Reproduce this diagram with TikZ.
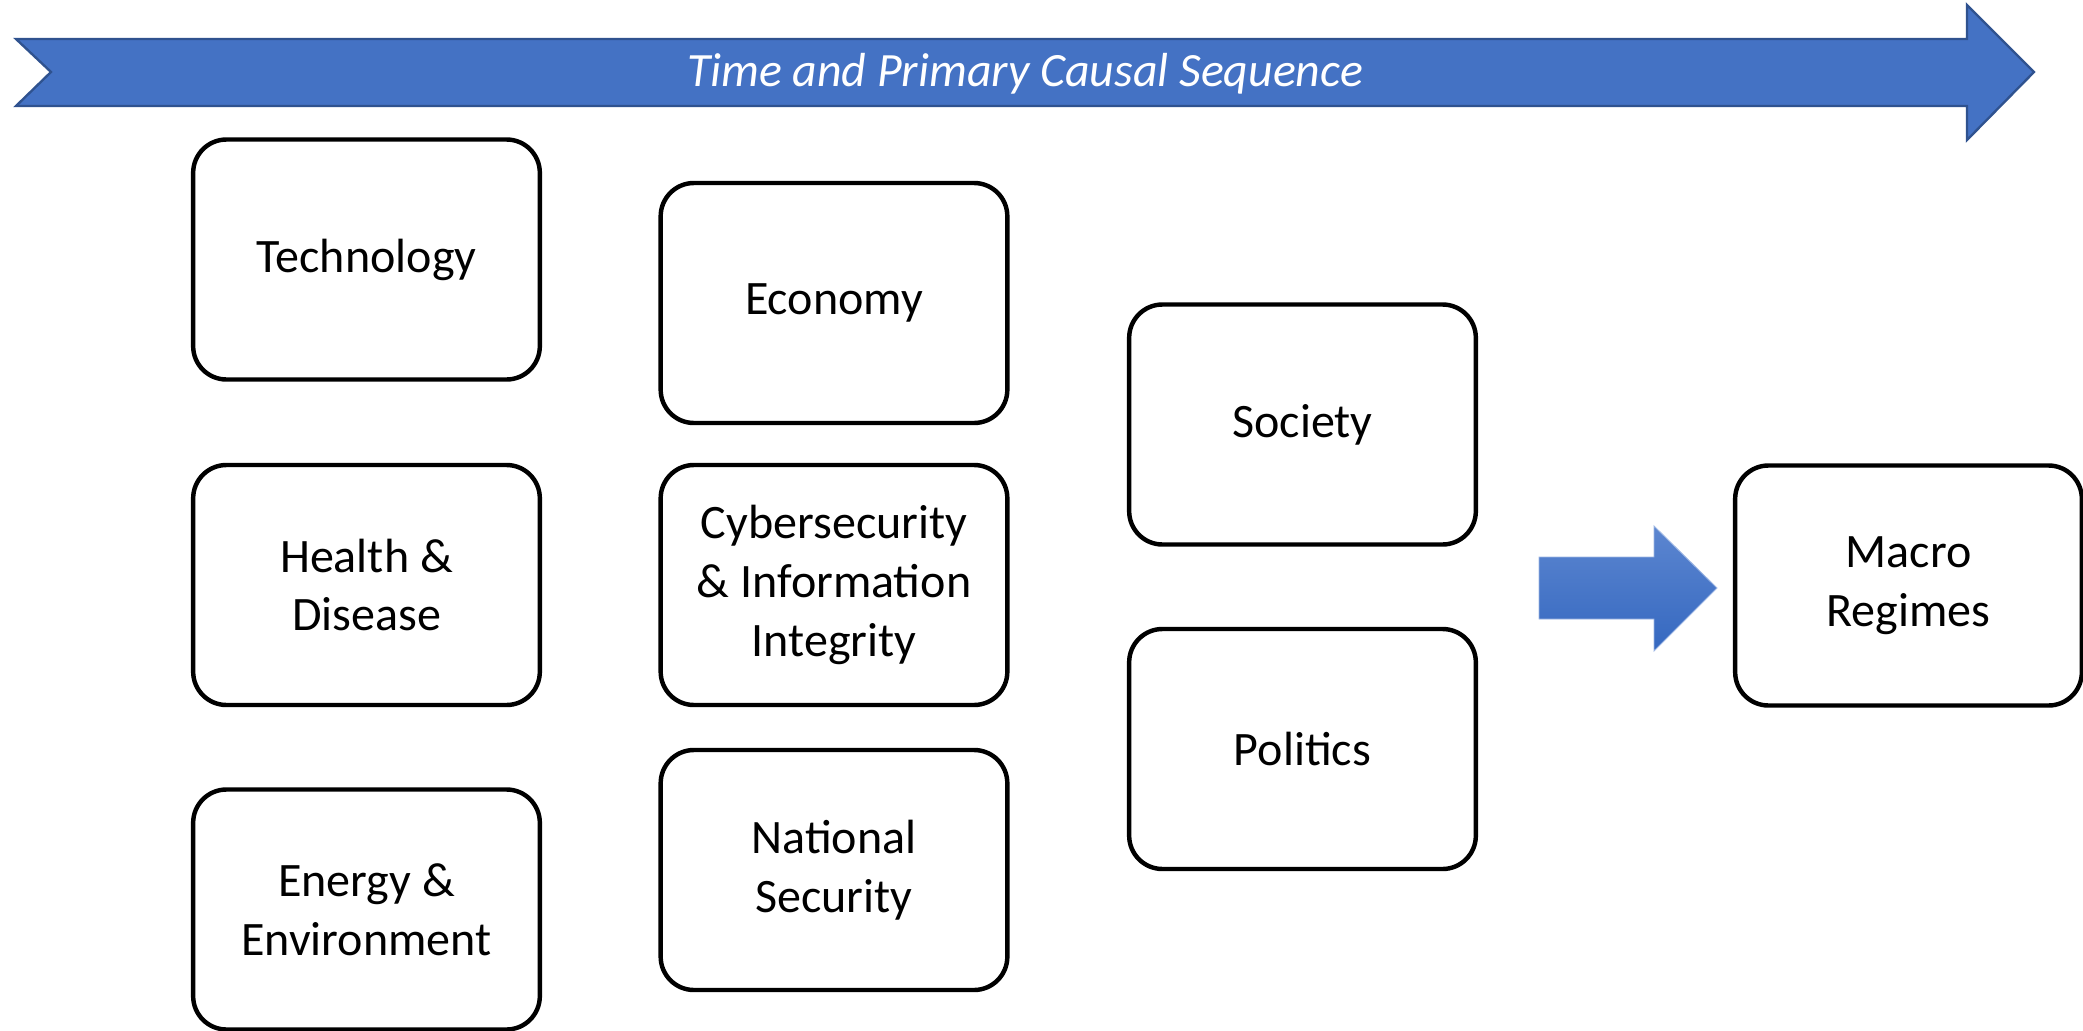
\documentclass[tikz,border=0pt]{standalone}
\usepackage{fontspec}
\setmainfont{Carlito}
\usepackage{tikz}
\usetikzlibrary{positioning}
\usepackage{xcolor}
\definecolor{arrowblue}{HTML}{4472C4}
\definecolor{arrowedge}{HTML}{2F528F}
\definecolor{shadetop}{HTML}{5C86D0}
\definecolor{shadebot}{HTML}{3568C0}

\begin{document}
\begin{tikzpicture}[
        x=0.015cm, y=-0.015cm,
        box/.style={rectangle, draw, line width=1.9pt, rounded corners=0.5cm, fill=white,
            minimum width=5.2cm, minimum height=3.6cm, align=center,
            font=\fontsize{20.5}{25}\selectfont},
        timeline/.style={fill=arrowblue, draw=arrowedge, line width=1pt},
        blockarrow/.style={top color=shadetop, bottom color=shadebot, draw=shadetop!60!white, line width=0.4pt}
    ]
        \useasboundingbox (0,0) rectangle (2083,1031);

        % Time arrow
        \draw[timeline] (16,39) -- (1967,39) -- (1967,5) -- (2034,72) -- (1967,140)
            -- (1967,106) -- (16,106) -- (51,72) -- cycle;
        \node[text=white, font=\fontsize{20.4}{24}\selectfont\itshape] (time) at (1025,74)
            {Time and Primary Causal Sequence};

        % First column
        \node[box] (tech) at (366.5,259.5) {Technology};
        \node[box] (health) at (366.5,585) {Health \&\\Disease};
        \node[box] (energy) at (366.5,909.5) {Energy \&\\Environment};

        % Second column
        \node[box] (econ) at (834,303) {Economy};
        \node[box] (cyber) at (834,585) {Cybersecurity\\\& Information\\Integrity};
        \node[box] (natsec) at (834,870) {National\\Security};

        % Third column
        \node[box] (society) at (1302.5,424.5) {Society};
        \node[box] (politics) at (1302.5,749) {Politics};

        % Block arrow
        \draw[blockarrow] (1539,557) -- (1654,557) -- (1654,526) -- (1717,588)
            -- (1654,651) -- (1654,619) -- (1539,619) -- cycle;

        % Outcome
        \node[box] (macro) at (1908.5,585.5) {Macro\\Regimes};
    \end{tikzpicture}
\end{document}
